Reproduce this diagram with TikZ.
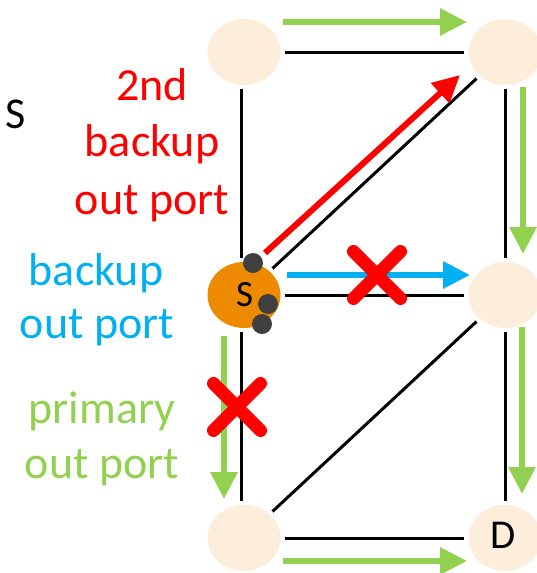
\documentclass[tikz,border=0pt]{standalone}
\usepackage{fontspec}
\setmainfont{Carlito}
\usetikzlibrary{arrows.meta,shapes.geometric}
\definecolor{nodelight}{HTML}{FDEDDB}
\definecolor{srcorange}{HTML}{EE8A00}
\definecolor{portgrey}{HTML}{404040}
\definecolor{pgreen}{HTML}{92D050}
\definecolor{bblue}{HTML}{00B0F0}
\definecolor{rred}{HTML}{FF0000}
\tikzset{
  netnode/.style={ellipse, fill=nodelight, minimum width=73pt, minimum height=66pt, inner sep=0pt},
  srcnode/.style={netnode, fill=srcorange},
  link/.style={black, line width=3pt, shorten <=4pt, shorten >=4pt},
  flow/.style={line width=6pt, -{Triangle[width=26pt,length=27pt]}},
  port/.style={circle, fill=portgrey, minimum size=20pt, inner sep=0pt},
  cross/.style={rred, line width=13pt, line cap=round},
  lbl/.style={anchor=base, inner sep=0pt, font=\fontsize{46}{56}\selectfont}
}
\begin{document}
\begin{tikzpicture}[x=1pt,y=-1pt]
\useasboundingbox (0,0) rectangle (536,573);
% nodes
\node[netnode] (TL) at (244,52) {};
\node[netnode] (TR) at (505,52) {};
\node[srcnode] (S) at (244,295) {};
\node[netnode] (MR) at (505,295) {};
\node[netnode] (BL) at (244,538) {};
\node[netnode] (D) at (505,538) {};
\node[anchor=base, inner sep=0pt, font=\fontsize{37}{44}\selectfont] (Stxt) at (244.5,306) {S};
\node[anchor=base, inner sep=0pt, font=\fontsize{41}{48}\selectfont] (Dtxt) at (503,548) {D};
% links
\draw[link] ([xshift=-3pt]TL.south) -- ([xshift=-3pt]S.north);
\draw[link] (TL) -- (TR);
\draw[link] (TR) -- (MR);
\draw[link] (S) -- (TR);
\draw[link] (S) -- (MR);
\draw[link] (MR) -- (D);
\draw[link] (BL) -- (MR);
\draw[link] ([xshift=-3pt]S.south) -- ([xshift=-3pt]BL.north);
\draw[link] (BL) -- (D);
% flow arrow endpoints
\coordinate (g1a) at (283,22);  \coordinate (g1b) at (467,22);
\coordinate (g2a) at (523,87);  \coordinate (g2b) at (523,254);
\coordinate (g3a) at (522,327); \coordinate (g3b) at (522,494);
\coordinate (g4a) at (283,561); \coordinate (g4b) at (467,561);
\coordinate (g5a) at (224,336); \coordinate (g5b) at (224,499);
\coordinate (ra) at (265,253);  \coordinate (rb) at (460,75);
\coordinate (ba) at (287,275);  \coordinate (bb) at (470,275);
\draw[flow, pgreen] (g1a) -- (g1b);
\draw[flow, pgreen] (g2a) -- (g2b);
\draw[flow, pgreen] (g3a) -- (g3b);
\draw[flow, pgreen] (g4a) -- (g4b);
\draw[flow, pgreen] (g5a) -- (g5b);
\draw[flow, rred] (ra) -- (rb);
\draw[flow, bblue] (ba) -- (bb);
% crosses
\coordinate (x1) at (377,275);
\coordinate (x2) at (237,407);
\draw[cross] ([shift={(-23.5,-23.5)}]x1) -- ([shift={(23.5,23.5)}]x1);
\draw[cross] ([shift={(-23.5,23.5)}]x1) -- ([shift={(23.5,-23.5)}]x1);
\draw[cross] ([shift={(-23.5,-23.5)}]x2) -- ([shift={(23.5,23.5)}]x2);
\draw[cross] ([shift={(-23.5,23.5)}]x2) -- ([shift={(23.5,-23.5)}]x2);
% ports
\node[port] (p1) at (253,263) {};
\node[port] (p2) at (268,304) {};
\node[port] (p3) at (262,324) {};
% labels
\node[anchor=base, inner sep=0pt, font=\fontsize{44}{52}\selectfont] (Sleft) at (16,128) {S};
\node[lbl, rred] (r1) at (152,100) {2nd};
\node[lbl, rred] (r2) at (152,156) {backup};
\node[lbl, rred] (r3) at (152,214) {out port};
\node[lbl, bblue] (b1) at (96,285) {backup};
\node[lbl, bblue] (b2) at (97,338) {out port};
\node[lbl, pgreen] (gr1) at (102,423) {primary};
\node[lbl, pgreen] (gr2) at (102,478) {out port};
\end{tikzpicture}
\end{document}
